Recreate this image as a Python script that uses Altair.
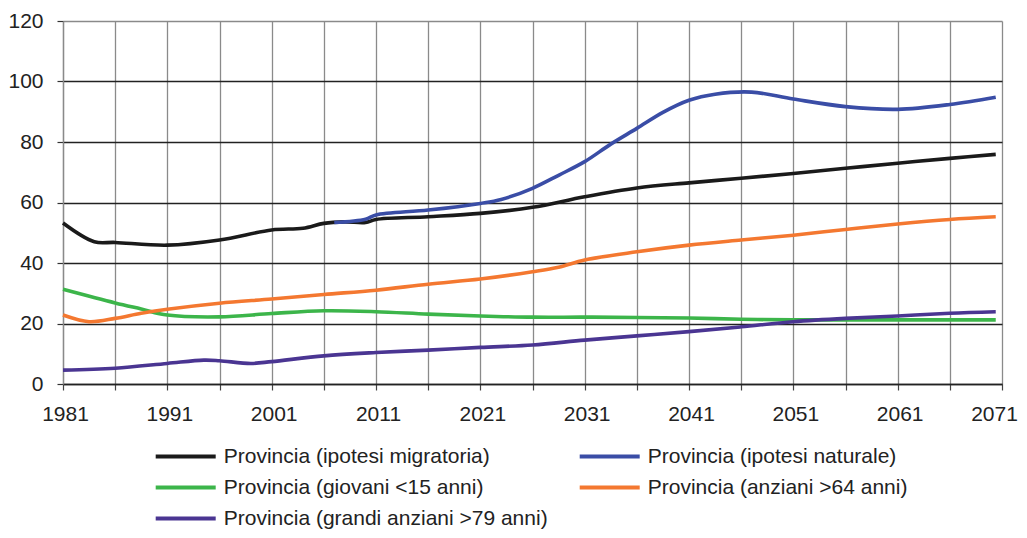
import altair as alt
import pandas as pd

series_names = [
    "Provincia (ipotesi migratoria)",
    "Provincia (ipotesi naturale)",
    "Provincia (giovani <15 anni)",
    "Provincia (anziani >64 anni)",
    "Provincia (grandi anziani >79 anni)",
]
series_colors = ["#1a1a1a", "#3a4da6", "#3cb54a", "#f47830", "#4a3592"]

mig_years = [1981, 1984, 1986, 1991, 1996, 2001, 2004, 2006, 2008, 2010, 2011, 2016, 2021, 2026, 2031, 2036, 2041, 2046, 2051, 2056, 2061, 2066, 2070.4]
mig_vals = [53.2, 47.0, 46.8, 45.9, 47.6, 50.9, 51.5, 53.1, 53.6, 53.4, 54.4, 55.3, 56.4, 58.4, 61.9, 64.8, 66.5, 68.0, 69.6, 71.3, 73.0, 74.6, 75.9]

nat_years = [2007, 2010, 2011, 2016, 2021, 2023, 2026, 2028.5, 2031, 2033.5, 2036, 2038.5, 2041, 2043.5, 2047, 2051, 2056, 2061, 2066, 2070.4]
nat_vals = [53.4, 54.5, 55.9, 57.5, 59.7, 61.0, 64.7, 69.0, 73.5, 79.3, 84.5, 89.8, 93.8, 95.8, 96.5, 94.2, 91.7, 90.8, 92.4, 94.8]

gio_years = [1981, 1986, 1988.5, 1991, 1996, 2001, 2006, 2011, 2016, 2021, 2026, 2031, 2036, 2041, 2046, 2051, 2061, 2070.4]
gio_vals = [31.3, 26.8, 24.8, 22.8, 22.2, 23.3, 24.2, 23.9, 23.1, 22.5, 22.1, 22.1, 22.0, 21.8, 21.4, 21.2, 21.2, 21.2]

anz_years = [1981, 1983.5, 1986, 1988.5, 1991, 1996, 2001, 2006, 2011, 2016, 2021, 2026, 2028.5, 2031, 2036, 2041, 2046, 2051, 2056, 2061, 2066, 2070.4]
anz_vals = [22.8, 20.6, 21.7, 23.4, 24.7, 26.7, 28.1, 29.6, 31.0, 33.0, 34.7, 37.1, 38.6, 41.0, 43.7, 45.9, 47.6, 49.2, 51.1, 52.9, 54.4, 55.3]

gra_years = [1981, 1986, 1991, 1994.5, 1996, 1999, 2001, 2006, 2011, 2016, 2021, 2026, 2031, 2036, 2041, 2046, 2051, 2056, 2061, 2066, 2070.4]
gra_vals = [4.6, 5.2, 6.8, 7.9, 7.7, 6.8, 7.4, 9.3, 10.4, 11.2, 12.1, 12.9, 14.5, 15.9, 17.3, 18.9, 20.6, 21.7, 22.5, 23.4, 23.9]

x_ticks = list(range(1981, 2072, 5))
y_ticks = [0, 20, 40, 60, 80, 100, 120]

rows = []
for name, ys, vs in zip(series_names,
                        [mig_years, nat_years, gio_years, anz_years, gra_years],
                        [mig_vals, nat_vals, gio_vals, anz_vals, gra_vals]):
    for y, v in zip(ys, vs):
        rows.append({"anno": y, "valore": v, "serie": name})
df = pd.DataFrame(rows)

font = "Liberation Sans"

chart = alt.Chart(df).mark_line(strokeWidth=3.6, interpolate="catmull-rom").encode(
    x=alt.X("anno:Q",
            scale=alt.Scale(domain=[1981, 2071], nice=False, zero=False),
            axis=alt.Axis(values=x_ticks, title=None, grid=True,
                          gridColor="#8a8a8a", gridWidth=1.3,
                          domainColor="#222", domainWidth=1.3,
                          tickColor="#444", tickSize=6, tickWidth=1.2,
                          labelExpr="(datum.value - 1981) % 10 == 0 ? datum.value : ''",
                          labelOffset={"condition": {"test": "datum.value >= 2071", "value": -8},
                                       "value": 2},
                          labelFont=font, labelFontSize=21, labelColor="#222",
                          labelPadding=13, labelFlush=False, labelOverlap=False)),
    y=alt.Y("valore:Q",
            scale=alt.Scale(domain=[0, 120], nice=False),
            axis=alt.Axis(values=y_ticks, title=None, grid=True,
                          gridColor={"condition": {"test": "datum.value === 120", "value": "#8a8a8a"}, "value": "#222"},
                          gridWidth=1.3,
                          domainColor="#8a8a8a", domainWidth=1.3,
                          tickColor="#333", tickSize=6, tickWidth=1.2,
                          labelFont=font, labelFontSize=21, labelColor="#222",
                          labelPadding=14)),
    color=alt.Color("serie:N",
                    scale=alt.Scale(domain=series_names, range=series_colors),
                    legend=alt.Legend(title=None, orient="none", legendX=90.7, legendY=425,
                                      direction="horizontal",
                                      columns=2, symbolType="stroke", symbolSize=3600,
                                      symbolStrokeWidth=4, clipHeight=21, rowPadding=9,
                                      columnPadding=30, labelOffset=6, labelLimit=600,
                                      labelFont=font, labelFontSize=21, labelColor="#222",
                                      padding=0)),
    order=alt.Order("anno:Q"),
).properties(
    width=939, height=363,
    autosize=alt.AutoSizeParams(type="none"),
    padding={"left": 55, "top": 13, "right": 16, "bottom": 145},
).configure_view(stroke="transparent")

chart.save("out.html", embed_options={"renderer": "svg", "actions": False})
